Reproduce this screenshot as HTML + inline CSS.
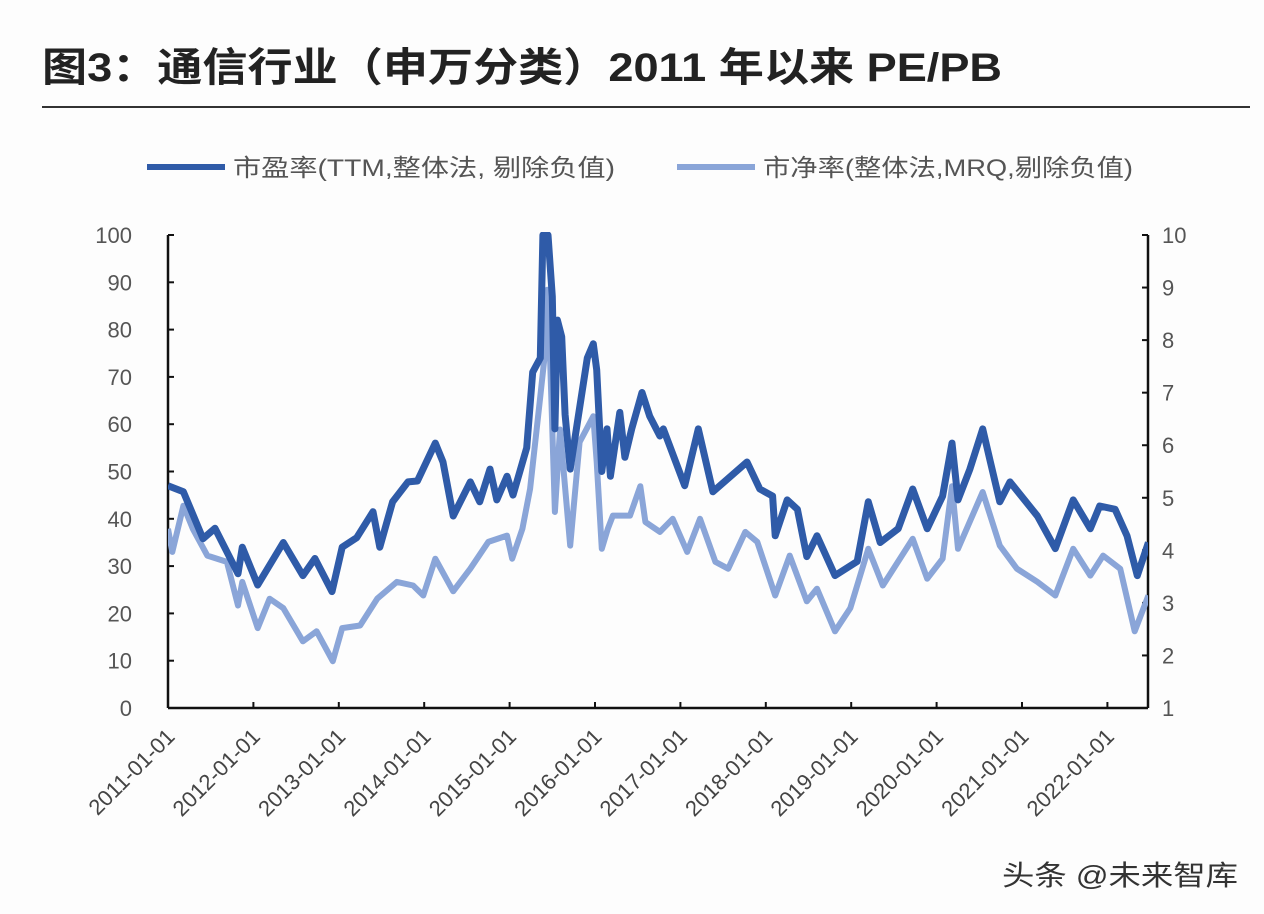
<!DOCTYPE html>
<html><head><meta charset="utf-8"><style>
body{margin:0;background:#fdfdfd;}
svg{display:block;font-family:"Liberation Sans","Noto Sans CJK SC",sans-serif;}
</style></head><body>
<svg id="chart" width="1264" height="914" viewBox="0 0 1264 914">
<rect x="0" y="0" width="1264" height="914" fill="#fdfdfd"/>
<text x="42" y="81" font-size="40" font-weight="bold" fill="#222" textLength="960" lengthAdjust="spacingAndGlyphs">图3：通信行业（申万分类）2011 年以来 PE/PB</text>
<line x1="42" y1="107" x2="1250" y2="107" stroke="#333" stroke-width="2"/>
<g>
<g>
<line x1="147" y1="167" x2="225" y2="167" stroke="#2f5ba8" stroke-width="6"/>
<text x="233" y="176" font-size="24" fill="#555" textLength="382" lengthAdjust="spacingAndGlyphs">市盈率(TTM,整体法, 剔除负值)</text>
</g>
<g>
<line x1="677" y1="167" x2="755" y2="167" stroke="#8aa5d8" stroke-width="6"/>
<text x="763" y="176" font-size="24" fill="#555" textLength="370" lengthAdjust="spacingAndGlyphs">市净率(整体法,MRQ,剔除负值)</text>
</g>
</g>
<g id="axes"></g>
<g id="series"></g>
<text x="1002" y="885" font-size="28" fill="#333" textLength="236" lengthAdjust="spacingAndGlyphs">头条 @未来智库</text>
</svg>
<script>
const xTickLabels=["2011-01-01","2012-01-01","2013-01-01","2014-01-01","2015-01-01","2016-01-01","2017-01-01","2018-01-01","2019-01-01","2020-01-01","2021-01-01","2022-01-01"];
const leftTicks=[0,10,20,30,40,50,60,70,80,90,100];
const rightTicks=[1,2,3,4,5,6,7,8,9,10];
const peDates=[2011.00,2011.18,2011.41,2011.55,2011.82,2011.87,2012.05,2012.35,2012.58,2012.72,2012.92,2013.04,2013.21,2013.40,2013.48,2013.63,2013.81,2013.92,2014.13,2014.22,2014.34,2014.54,2014.65,2014.77,2014.85,2014.97,2015.04,2015.20,2015.27,2015.36,2015.39,2015.45,2015.50,2015.53,2015.56,2015.61,2015.65,2015.71,2015.79,2015.91,2015.98,2016.02,2016.08,2016.14,2016.18,2016.29,2016.35,2016.43,2016.55,2016.64,2016.76,2016.80,2017.05,2017.21,2017.38,2017.55,2017.78,2017.93,2018.08,2018.11,2018.25,2018.37,2018.48,2018.60,2018.81,2019.07,2019.20,2019.34,2019.55,2019.72,2019.89,2020.07,2020.18,2020.25,2020.39,2020.54,2020.63,2020.74,2020.86,2021.18,2021.39,2021.60,2021.80,2021.91,2022.09,2022.23,2022.35,2022.48];
const peValues=[47,45.7,35.8,38,28.4,34,26,35,28,31.6,24.6,34,36,41.5,34,43.6,47.8,48,56,52,40.6,47.8,43.6,50.5,44,49,45,55,71,74,100,100,87,59,82,78.5,62,50.5,60,74,77,71.5,50,59,49,62.5,53,59,66.7,61.7,57.5,59,47,59,45.7,48.4,52,46.3,44.8,36.4,44,42,32,36.4,28,31,43.6,35,37.9,46.3,37.9,44.8,56,44,50.5,59,52,43.6,47.8,40.6,33.7,44,37.9,42.7,42,36.4,28,35];
const pbDates=[2011.00,2011.05,2011.18,2011.29,2011.46,2011.69,2011.82,2011.87,2012.05,2012.19,2012.35,2012.58,2012.74,2012.93,2013.04,2013.25,2013.45,2013.68,2013.87,2013.99,2014.13,2014.34,2014.54,2014.75,2014.97,2015.03,2015.15,2015.24,2015.36,2015.41,2015.44,2015.47,2015.53,2015.59,2015.71,2015.82,2015.98,2016.02,2016.08,2016.15,2016.21,2016.41,2016.53,2016.59,2016.76,2016.91,2017.08,2017.23,2017.41,2017.56,2017.76,2017.90,2018.11,2018.28,2018.48,2018.60,2018.81,2018.99,2019.20,2019.37,2019.72,2019.89,2020.07,2020.18,2020.25,2020.54,2020.74,2020.94,2021.18,2021.39,2021.60,2021.80,2021.95,2022.15,2022.32,2022.48];
const pbValues=[4.41,3.97,4.85,4.41,3.9,3.78,2.95,3.4,2.52,3.08,2.9,2.27,2.46,1.89,2.52,2.57,3.08,3.4,3.33,3.14,3.84,3.22,3.65,4.16,4.28,3.84,4.41,5.17,6.93,7.69,8.96,7.88,4.73,6.3,4.09,6.06,6.55,5.68,4.03,4.41,4.66,4.66,5.22,4.54,4.35,4.6,3.97,4.6,3.78,3.65,4.35,4.16,3.14,3.9,3.03,3.27,2.46,2.9,4.03,3.33,4.22,3.46,3.84,5.22,4.03,5.11,4.09,3.65,3.4,3.14,4.03,3.52,3.9,3.65,2.46,3.14];

const NS="http://www.w3.org/2000/svg";
const X0=168,X1=1148,YT=235,YB=708;
const xScale=d=>X0+(d-2011)*85.4;
const yLeft=v=>YB-(v-0)/100*(YB-YT);
const yRight=v=>YB-(v-1)/9*(YB-YT);
const axes=document.getElementById('axes');
const series=document.getElementById('series');
function mk(tag,attrs,parent){const e=document.createElementNS(NS,tag);for(const k in attrs)e.setAttribute(k,attrs[k]);parent.appendChild(e);return e;}
let l;
l=mk('line',{x1:X0,y1:YT,x2:X0,y2:YB,stroke:'#111','stroke-width':2.5},axes);


l=mk('line',{x1:X1,y1:YT,x2:X1,y2:YB,stroke:'#111','stroke-width':2.5},axes);


l=mk('line',{x1:X0,y1:YB,x2:X1,y2:YB,stroke:'#111','stroke-width':2.5},axes);


leftTicks.forEach(v=>{const y=yLeft(v);
 const t=mk('line',{x1:X0,y1:y,x2:X0+6,y2:y,stroke:'#111','stroke-width':2},axes);
 
 
 const tx=mk('text',{x:132,y:y+8,'font-size':22,fill:'#555','text-anchor':'end'},axes);tx.textContent=v;
 
 
});
rightTicks.forEach(v=>{const y=yRight(v);
 const t=mk('line',{x1:X1-6,y1:y,x2:X1,y2:y,stroke:'#111','stroke-width':2},axes);
 
 
 const tx=mk('text',{x:1162,y:y+8,'font-size':22,fill:'#555'},axes);tx.textContent=v;
 
 
});
xTickLabels.forEach((s,i)=>{const x=xScale(2011+i);
 const t=mk('line',{x1:x,y1:YB-6,x2:x,y2:YB,stroke:'#111','stroke-width':2},axes);
 
 
 const tx=mk('text',{x:x+8,y:738,'font-size':22,fill:'#444','text-anchor':'end',transform:`rotate(-45 ${x+8} 738)`},axes);tx.textContent=s;
 
 
});
const clip=mk('clipPath',{id:'plotclip'},series);
mk('rect',{x:X0,y:YT-3,width:X1-X0,height:YB-YT+3},clip);
const pbPath=pbDates.map((d,i)=>(i?'L':'M')+xScale(d).toFixed(1)+' '+yRight(pbValues[i]).toFixed(1)).join(' ');
const p2=mk('path',{d:pbPath,fill:'none',stroke:'#8aa5d8','stroke-width':6,'stroke-linejoin':'round','clip-path':'url(#plotclip)'},series);


const pePath=peDates.map((d,i)=>(i?'L':'M')+xScale(d).toFixed(1)+' '+yLeft(peValues[i]).toFixed(1)).join(' ');
const p1=mk('path',{d:pePath,fill:'none',stroke:'#2f5ba8','stroke-width':7,'stroke-linejoin':'round','clip-path':'url(#plotclip)'},series);


</script>
</body></html>
